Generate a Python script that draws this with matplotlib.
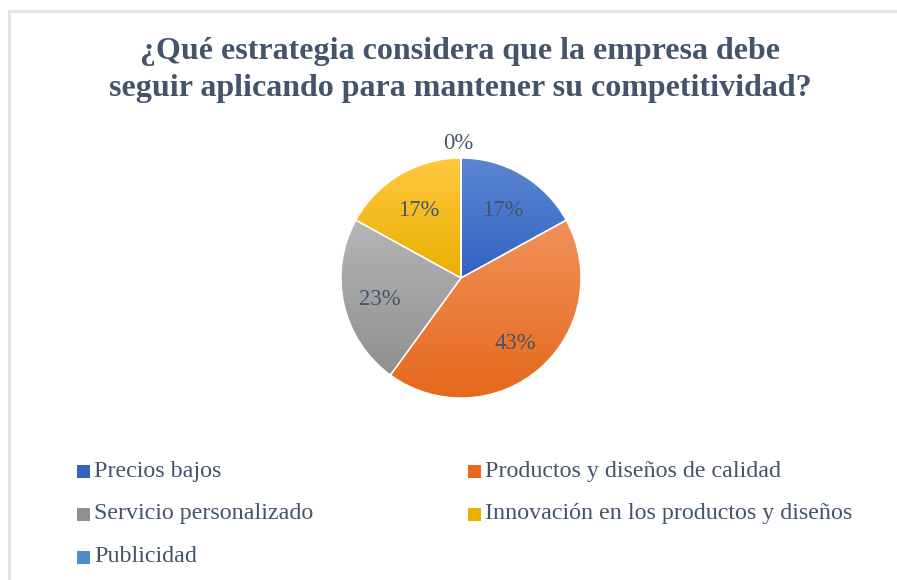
import numpy as np
import matplotlib
matplotlib.use("Agg")
import matplotlib.pyplot as plt
from matplotlib.patches import Rectangle, Wedge
from matplotlib.colors import LinearSegmentedColormap

title = "¿Qué estrategia considera que la empresa debe\nseguir aplicando para mantener su competitividad?"
categories = ["Precios bajos", "Productos y diseños de calidad", "Servicio personalizado",
              "Innovación en los productos y diseños", "Publicidad"]
values = [17, 43, 23, 17, 0]
colors_top = ["#5B86D3", "#F1915A", "#B5B5B5", "#FFC83F", "#6EA8DC"]
colors_bot = ["#3364C2", "#E6691C", "#909090", "#E9B000", "#4B8ECC"]

TXT = "#44546A"
W, H = 897, 580
fig = plt.figure(figsize=(W / 100, H / 100), dpi=100)
fig.patch.set_facecolor("white")

# border
fig.add_artist(Rectangle((8.5 / W, -0.1), 2.0, (H - 11) / H + 0.1, transform=fig.transFigure,
                         fill=False, edgecolor="#DEE3EB", linewidth=2))

fig.text(460 / W, 1 - 70 / H, title, ha="center", va="center", fontsize=23,
         fontweight="bold", family="Liberation Serif", color=TXT, linespacing=1.32)

cx, cy, r = 461, 278, 120
ax = fig.add_axes([(cx - r) / W, (H - cy - r) / H, 2 * r / W, 2 * r / H])
wedges, texts, autotexts = ax.pie(values, startangle=90, counterclock=False, radius=1,
                                  colors=colors_bot, autopct="%1.0f%%", pctdistance=0.69,
                                  wedgeprops=dict(edgecolor="white", linewidth=1),
                                  textprops=dict(family="Liberation Serif", fontsize=16.3, color=TXT))
ax.set_aspect("equal")
ax.axis("off")

for w, ct, cb in zip(wedges, colors_top, colors_bot):
    bb = w.get_path().get_extents(w.get_patch_transform())
    cmap = LinearSegmentedColormap.from_list("g", [cb, ct])
    grad = np.linspace(0, 1, 100).reshape(-1, 1)
    im = ax.imshow(grad, cmap=cmap, extent=[bb.x0, bb.x1, bb.y0, bb.y1], origin="lower",
                   aspect="auto", zorder=w.get_zorder() + 0.1)
    im.set_clip_path(w)
    ax.add_patch(Wedge(w.center, w.r, w.theta1, w.theta2, facecolor="none",
                       edgecolor="white", linewidth=1, zorder=w.get_zorder() + 0.2))
ax.set_xlim(-1, 1)
ax.set_ylim(-1, 1)
for t in autotexts:
    t.set_zorder(5)
    x, y = t.get_position()
    t.set_position((x, y - 0.03))
# zero slice label sits outside the pie
autotexts[4].set_position((-0.02, 1.12))

# legend
rows_y = [471.5, 514, 557]
cols_x = [77, 468]
order = [(0, 0, 0), (1, 0, 1), (2, 1, 0), (3, 1, 1), (4, 2, 0)]
for i, row, col in order:
    x, y = cols_x[col], rows_y[row]
    sq = Rectangle((x / W, 1 - (y + 6.5) / H), 13 / W, 13 / H, transform=fig.transFigure,
                   facecolor=colors_bot[i], edgecolor="none")
    fig.add_artist(sq)
    fig.text((x + 17) / W, 1 - y / H, categories[i], ha="left", va="center", fontsize=17.3,
             family="Liberation Serif", color=TXT)

fig.savefig("out.png", dpi=100)
